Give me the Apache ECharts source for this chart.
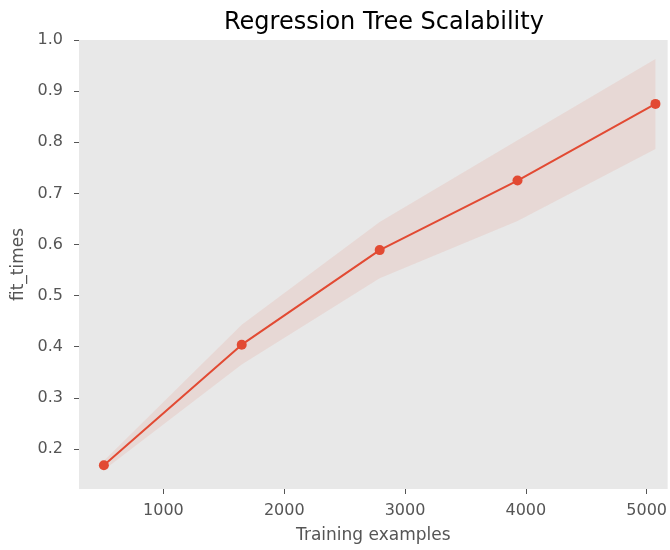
<!DOCTYPE html>
<html>
<head>
<meta charset="utf-8">
<script src="https://cdn.jsdelivr.net/npm/echarts@6/dist/echarts.min.js"></script>
<style>
  html, body { margin: 0; padding: 0; background: #ffffff; }
  #chart { width: 670px; height: 550px; }
</style>
</head>
<body>
<div id="chart"></div>
<script>
// Training set sizes and mean fit times with their standard deviation
const trainSizes = [507, 1648, 2790, 3931, 5073];
const fitTimeMean = [0.168, 0.404, 0.589, 0.725, 0.875];
const fitTimeStd = [0.009, 0.039, 0.055, 0.079, 0.088];
const xTicks = [1000, 2000, 3000, 4000, 5000];
const yTicks = [0.2, 0.3, 0.4, 0.5, 0.6, 0.7, 0.8, 0.9, 1.0];

const lineColor = '#E24A33';
const tickColor = '#555555';
const font = 'DejaVu Sans';

const meanLine = trainSizes.map((x, i) => [x, fitTimeMean[i]]);
// rows of [size, mean - std, mean + std] for the shaded band
const bandRows = trainSizes.map((x, i) => [x, fitTimeMean[i] - fitTimeStd[i], fitTimeMean[i] + fitTimeStd[i]]);

const chart = echarts.init(document.getElementById('chart'), null, { renderer: 'canvas' });

chart.setOption({
  animation: false,
  backgroundColor: '#ffffff',
  title: {
    text: 'Regression Tree Scalability',
    left: 219,
    top: 6,
    textStyle: { fontFamily: font, fontSize: 24, fontWeight: 'normal', color: '#000000' }
  },
  grid: {
    left: 79, right: 0, top: 40, bottom: 61,
    show: true, backgroundColor: '#E8E8E8', borderWidth: 0
  },
  xAxis: {
    type: 'value',
    min: 301, max: 5174,
    name: 'Training examples',
    nameLocation: 'middle',
    nameGap: 38,
    nameTextStyle: { fontFamily: font, fontSize: 17, color: tickColor },
    axisLine: { show: false },
    splitLine: { show: false },
    axisTick: { show: true, length: 5, lineStyle: { color: tickColor }, customValues: xTicks },
    axisLabel: {
      fontFamily: font, fontSize: 16, color: tickColor, margin: 14,
      customValues: xTicks,
      formatter: v => String(v)
    }
  },
  yAxis: {
    type: 'value',
    min: 0.1217, max: 1.0,
    name: 'fit_times',
    nameLocation: 'middle',
    nameGap: 49,
    nameTextStyle: { fontFamily: font, fontSize: 17, color: tickColor },
    axisLine: { show: false },
    splitLine: { show: false },
    axisTick: { show: true, length: 5, lineStyle: { color: tickColor }, customValues: yTicks },
    axisLabel: {
      fontFamily: font, fontSize: 16, color: tickColor, margin: 16,
      customValues: yTicks,
      formatter: v => v.toFixed(1)
    }
  },
  series: [
    {
      name: 'band',
      type: 'custom',
      data: bandRows,
      encode: { x: 0, y: [1, 2] },
      silent: true,
      z: 1,
      renderItem: (params, api) => {
        if (params.dataIndex !== 0) return null;
        const upper = bandRows.map(r => api.coord([r[0], r[2]]));
        const lower = bandRows.map(r => api.coord([r[0], r[1]])).reverse();
        return {
          type: 'polygon',
          shape: { points: upper.concat(lower) },
          style: { fill: 'rgba(226,74,51,0.1)', stroke: null }
        };
      }
    },
    {
      name: 'fit_times',
      type: 'line',
      data: meanLine,
      symbol: 'circle',
      symbolSize: 10,
      itemStyle: { color: lineColor },
      lineStyle: { color: lineColor, width: 2 },
      z: 5
    }
  ]
});
</script>
</body>
</html>
